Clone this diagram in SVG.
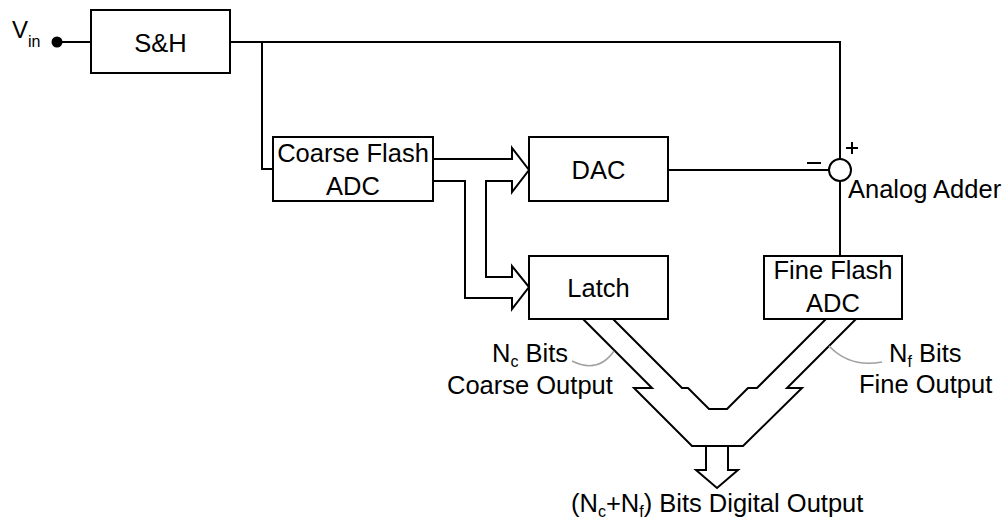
<svg xmlns="http://www.w3.org/2000/svg" width="1008" height="520" viewBox="0 0 1008 520">
<style>
.box{fill:#fff;stroke:#000;stroke-width:2}
.ln{fill:none;stroke:#000;stroke-width:2;stroke-linejoin:miter}
.lead{fill:none;stroke:#a0a0a0;stroke-width:1.5}
text{font-family:"Liberation Sans",Arial,sans-serif;fill:#000}
.t{font-size:25.5px;text-anchor:middle}
.l{font-size:25.5px}
.sub{font-size:16px}
</style>
<rect width="1008" height="520" fill="#fff"/>
<g id="connectors">
<path class="ln" d="M57,42 H91"/>
<path class="ln" d="M230,42 H840 V159"/>
<path class="ln" d="M262,42 V169 H273"/>
<path class="ln" d="M433,159 H512 V148 L529,170 L512,192 V181 H486 V277 H512 V266 L529,287 L512,309 V298 H465 V181 H433"/>
<path class="ln" d="M668,170 H829"/>
<path class="ln" d="M840,181 V256"/>
<path class="ln" d="M583,319 L652,388 H634 L692,446 H743 L802,388 H787 L856,319"/>
<path class="ln" d="M613,319 L682,388 H688 L709,409 H727 L748,388 H757 L826,319"/>
<path class="ln" d="M706,446 V470 H696 L717,488 L738,470 H728 V446"/>
<path class="lead" d="M572,361 Q598,374 614,351"/>
<path class="lead" d="M829,346 Q850,368 882,362"/>
</g>
<g id="vin">
<circle cx="57" cy="42" r="5.5" fill="#000"/>
<text x="12" y="38" style="font-size:24px">V</text>
<text x="28" y="47" style="font-size:16px">in</text>
</g>
<g id="sh">
<rect class="box" x="91" y="10" width="139" height="63"/>
<text class="t" x="160.5" y="52">S&amp;H</text>
</g>
<g id="coarse">
<rect class="box" x="273" y="137" width="160" height="64"/>
<text class="t" x="353" y="162">Coarse Flash</text>
<text class="t" x="353" y="195">ADC</text>
</g>
<g id="dac">
<rect class="box" x="529" y="137" width="139" height="64"/>
<text class="t" x="598.5" y="179">DAC</text>
</g>
<g id="latch">
<rect class="box" x="529" y="256" width="139" height="63"/>
<text class="t" x="598.5" y="297">Latch</text>
</g>
<g id="adder">
<circle cx="840" cy="170" r="11" fill="#fff" stroke="#000" stroke-width="2"/>
<path class="ln" d="M846,148 H858 M852,142 V154 M807,163 H821"/>
<text class="l" x="848" y="198">Analog Adder</text>
</g>
<g id="fine">
<rect class="box" x="764" y="256" width="138" height="63"/>
<text class="t" x="833" y="279">Fine Flash</text>
<text class="t" x="833" y="312">ADC</text>
</g>
<g id="labels">
<text class="l" x="492" y="362">N<tspan class="sub" dy="5">c</tspan><tspan dy="-5"> Bits</tspan></text>
<text class="l" x="447" y="394">Coarse Output</text>
<text class="l" x="889" y="362">N<tspan class="sub" dy="5">f</tspan><tspan dy="-5"> Bits</tspan></text>
<text class="l" x="859" y="393">Fine Output</text>
<text class="l" x="571" y="512">(N<tspan class="sub" dy="5">c</tspan><tspan dy="-5">+N</tspan><tspan class="sub" dy="5">f</tspan><tspan dy="-5">) Bits Digital Output</tspan></text>
</g>
</svg>
